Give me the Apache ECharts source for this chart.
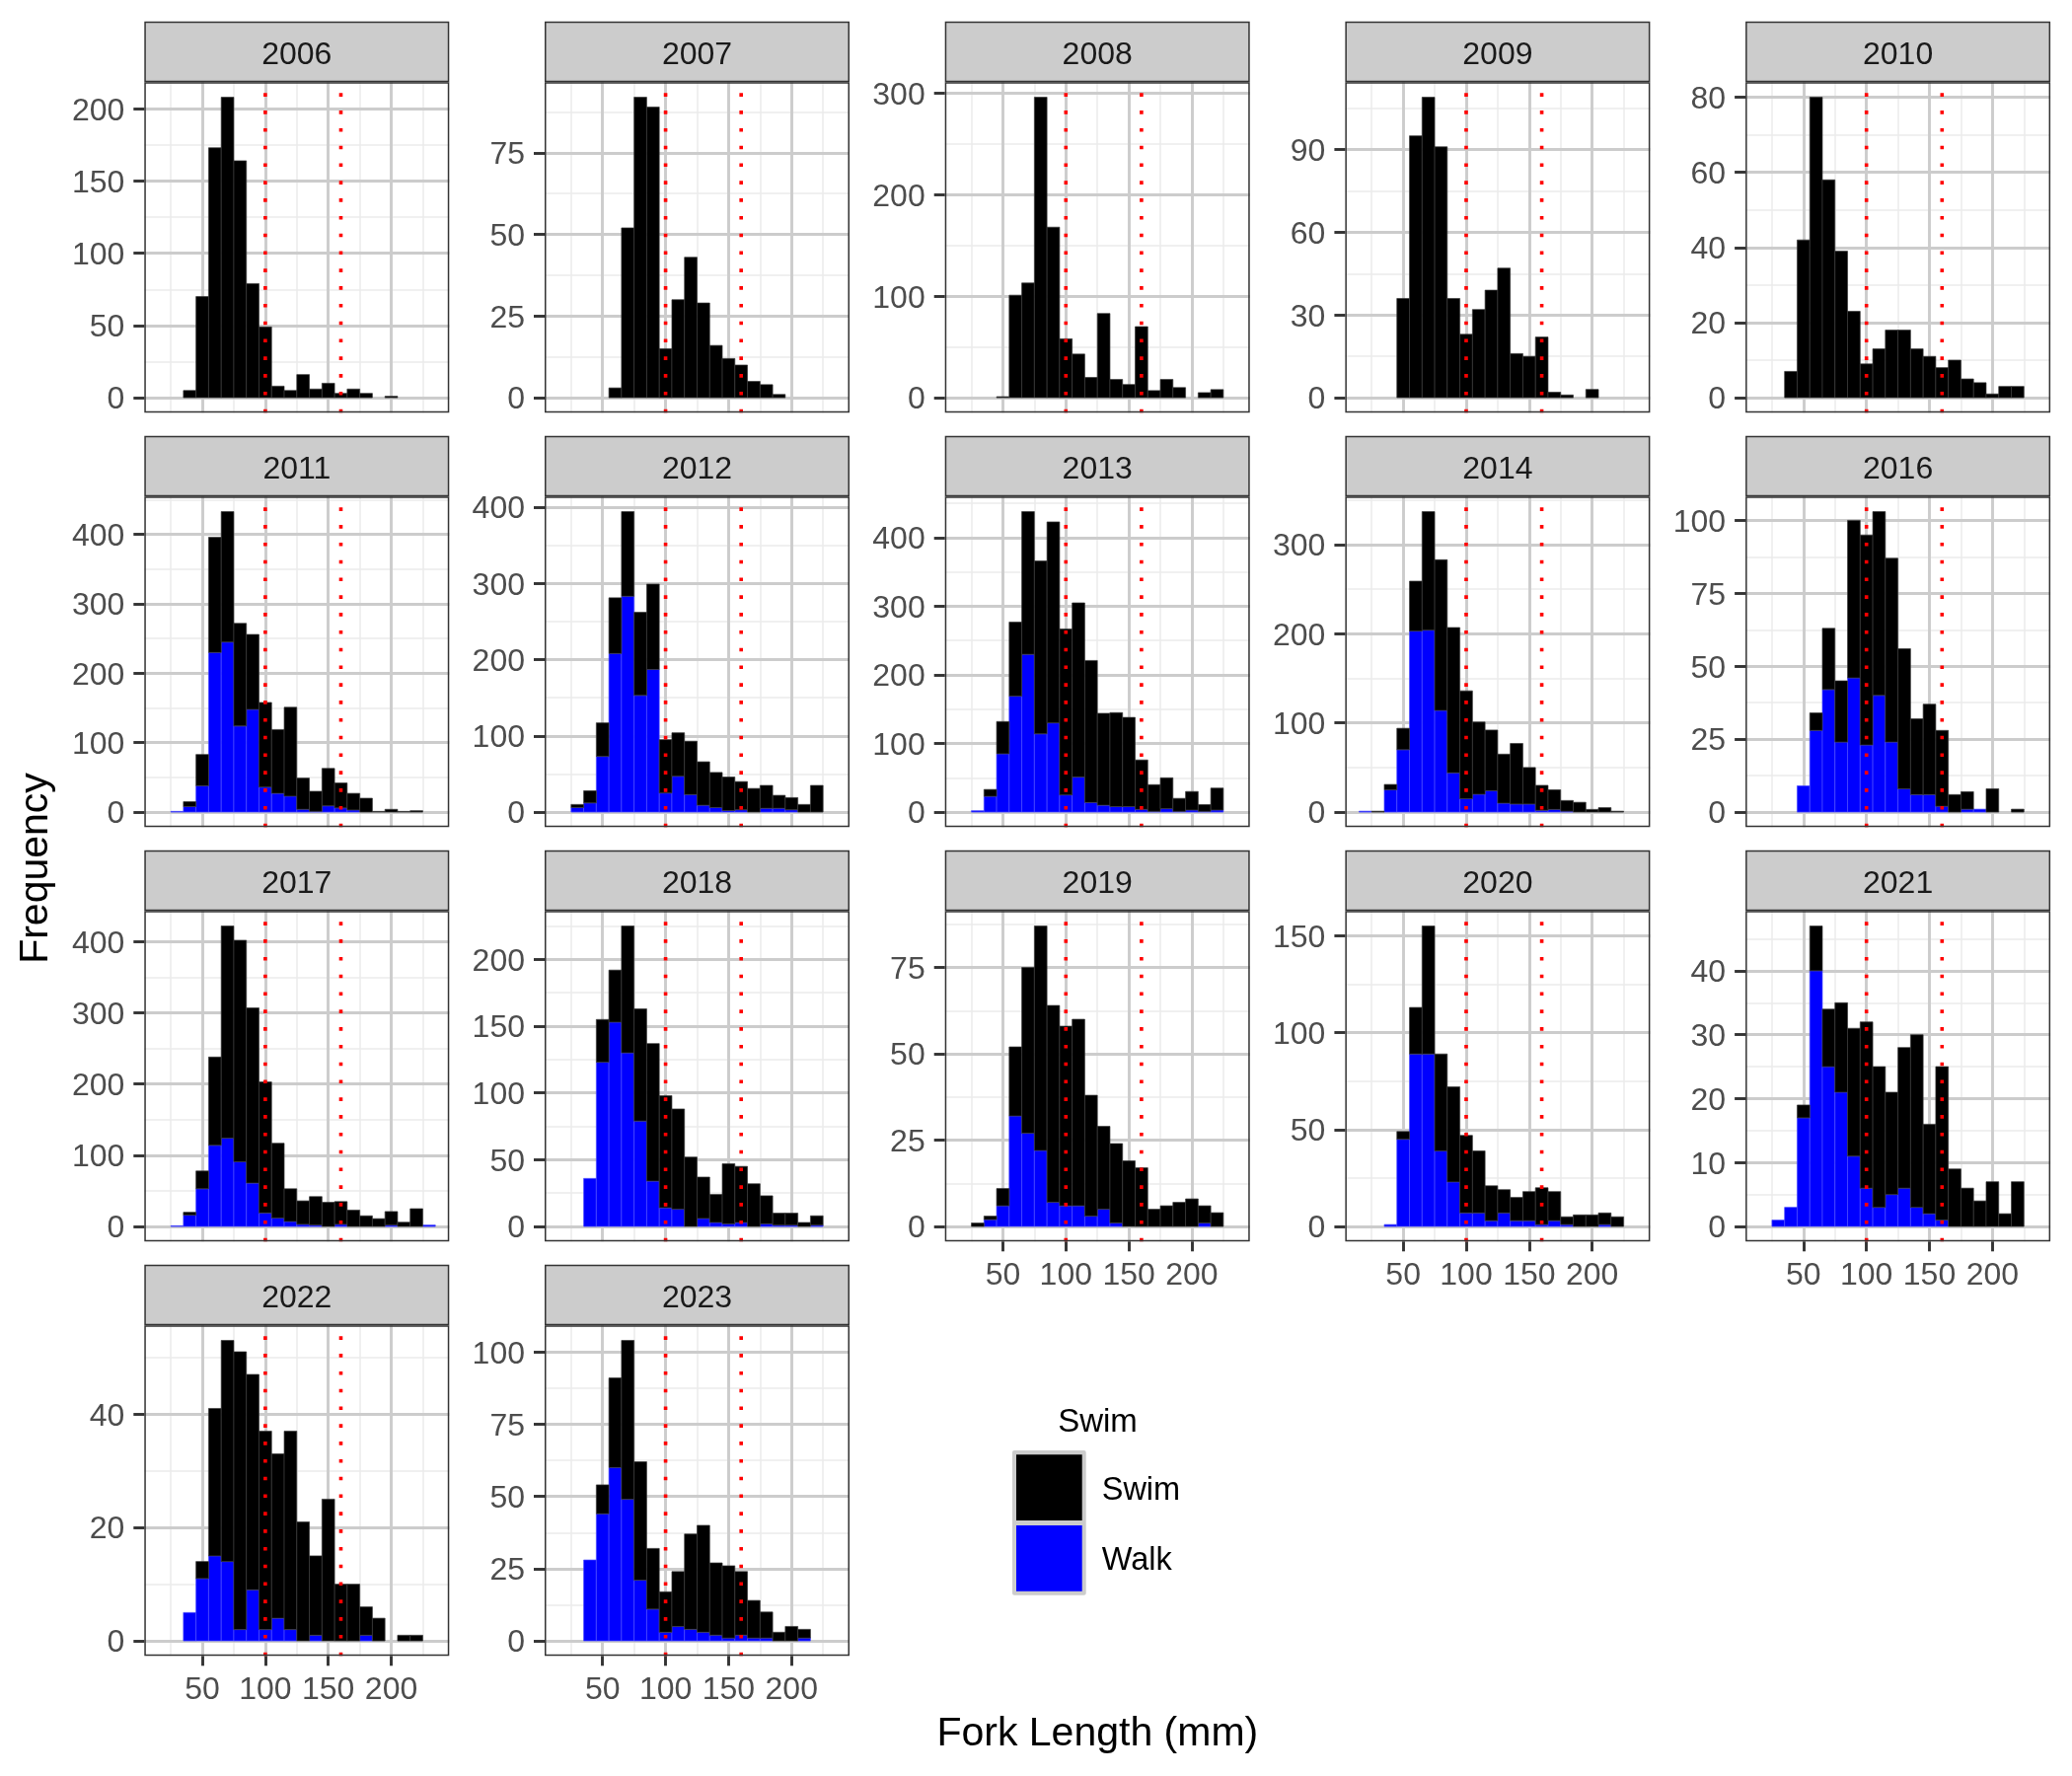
<!DOCTYPE html>
<html>
<head>
<meta charset="utf-8">
<script src="https://cdn.jsdelivr.net/npm/echarts@6/dist/echarts.min.js"></script>
<style>
html,body{margin:0;padding:0;background:#ffffff;}
#main{width:2100px;height:1800px;}
</style>
</head>
<body>
<div id="main"></div>
<script>
// ---------------- data ----------------
const binCenters = [20,30,40,50,60,70,80,90,100,110,120,130,140,150,160,170,180,190,200,210,220,230];
const binWidth = 10;
const years = [2006,2007,2008,2009,2010,2011,2012,2013,2014,2016,2017,2018,2019,2020,2021,2022,2023];

const walk_2006 = [0,0,0,0,0,0,0,0,0,0,0,0,0,0,0,0,0,0,0,0,0,0];
const swim_2006 = [0,0,5,70,173,208,164,79,49,8,5,16,6,10,3,6,3,0,1,0,0,0];
const walk_2007 = [0,0,0,0,0,0,0,0,0,0,0,0,0,0,0,0,0,0,0,0,0,0];
const swim_2007 = [0,0,0,0,3,52,92,89,15,30,43,29,16,12,10,5,4,1,0,0,0,0];
const walk_2008 = [0,0,0,0,0,0,0,0,0,0,0,0,0,0,0,0,0,0,0,0,0,0];
const swim_2008 = [0,0,0,1,101,113,296,168,58,43,20,83,18,13,70,7,18,10,0,5,8,0];
const walk_2009 = [0,0,0,0,0,0,0,0,0,0,0,0,0,0,0,0,0,0,0,0,0,0];
const swim_2009 = [0,0,0,36,95,109,91,36,23,32,39,47,16,15,22,2,1,0,3,0,0,0];
const walk_2010 = [0,0,0,0,0,0,0,0,0,0,0,0,0,0,0,0,0,0,0,0,0,0];
const swim_2010 = [0,0,7,42,80,58,39,23,9,13,18,18,13,11,8,10,5,4,1,3,3,0];
const walk_2011 = [0,1,8,38,230,245,124,148,36,27,23,4,1,9,6,3,0,0,0,0,0,0];
const swim_2011 = [0,0,7,45,166,188,148,108,122,92,128,45,29,54,36,24,20,1,4,1,2,0];
const walk_2012 = [0,6,12,73,208,283,153,187,25,47,23,9,6,2,3,0,5,5,3,0,0,0];
const swim_2012 = [0,4,16,44,73,111,109,112,70,57,70,57,46,44,37,31,30,17,16,10,35,0];
const walk_2013 = [0,2,23,85,169,230,114,130,25,51,14,10,8,8,4,1,5,1,3,1,3,0];
const swim_2013 = [0,0,10,47,108,208,252,293,242,254,207,134,137,130,72,39,45,19,27,10,32,0];
const walk_2014 = [1,0,25,70,203,204,114,44,15,20,24,10,9,9,2,3,1,0,0,0,0,0];
const swim_2014 = [0,1,6,24,56,133,169,163,121,81,68,55,68,41,28,22,12,11,3,5,1,0];
const walk_2016 = [0,0,0,9,28,42,24,46,23,40,24,8,6,6,2,0,1,1,0,0,0,0];
const swim_2016 = [0,0,0,0,6,21,21,54,72,63,63,48,26,31,26,6,6,0,8,0,1,0];
const walk_2017 = [0,1,16,53,114,124,91,61,19,12,7,3,2,0,3,0,0,0,2,0,0,2];
const swim_2017 = [0,0,4,25,124,298,311,246,184,105,46,33,40,34,32,23,15,11,19,6,25,0];
const walk_2018 = [0,0,36,123,153,130,79,34,14,13,0,6,3,2,3,0,2,1,1,0,1,0];
const swim_2018 = [0,0,0,32,39,95,84,103,84,75,52,31,21,45,42,32,21,9,9,3,7,0];
const walk_2019 = [0,0,2,6,32,27,22,7,6,6,3,5,1,0,0,0,0,0,0,1,0,0];
const swim_2019 = [0,1,1,5,20,48,65,57,52,54,35,24,23,19,17,5,6,7,8,5,4,0];
const walk_2020 = [0,0,1,45,89,89,39,23,7,7,3,7,3,3,1,3,1,0,0,1,0,0];
const swim_2020 = [0,0,0,4,24,66,50,49,40,32,18,12,12,15,19,15,4,6,6,6,5,0];
const walk_2021 = [0,1,3,17,40,25,21,11,6,3,5,6,3,2,1,0,0,0,0,0,0,0];
const swim_2021 = [0,0,0,2,7,9,14,20,26,22,16,22,27,14,24,9,6,4,7,2,7,0];
const walk_2022 = [0,0,5,11,15,14,2,9,2,4,2,0,1,0,0,0,1,0,0,0,0,0];
const swim_2022 = [0,0,0,3,26,39,49,38,35,29,35,21,14,25,10,10,5,4,0,1,1,0];
const walk_2023 = [0,0,28,44,60,49,21,11,3,5,4,3,2,1,2,1,1,0,0,1,0,0];
const swim_2023 = [0,0,0,10,31,55,41,21,14,19,33,37,25,25,22,13,9,3,5,3,0,0];

const yBreaks_2006 = [0,50,100,150,200];
const yBreaks_2007 = [0,25,50,75];
const yBreaks_2008 = [0,100,200,300];
const yBreaks_2009 = [0,30,60,90];
const yBreaks_2010 = [0,20,40,60,80];
const yBreaks_2011 = [0,100,200,300,400];
const yBreaks_2012 = [0,100,200,300,400];
const yBreaks_2013 = [0,100,200,300,400];
const yBreaks_2014 = [0,100,200,300];
const yBreaks_2016 = [0,25,50,75,100];
const yBreaks_2017 = [0,100,200,300,400];
const yBreaks_2018 = [0,50,100,150,200];
const yBreaks_2019 = [0,25,50,75];
const yBreaks_2020 = [0,50,100,150];
const yBreaks_2021 = [0,10,20,30,40];
const yBreaks_2022 = [0,20,40];
const yBreaks_2023 = [0,25,50,75,100];

const xBreaks = [50,100,150,200];
const xMinorBreaks = [25,75,125,175,225];
const refLines = [100,160];
const seriesNames = ['Swim','Walk'];

// lookup tables built from the arrays above
const walkByYear = {2006:walk_2006,2007:walk_2007,2008:walk_2008,2009:walk_2009,2010:walk_2010,2011:walk_2011,2012:walk_2012,2013:walk_2013,2014:walk_2014,2016:walk_2016,2017:walk_2017,2018:walk_2018,2019:walk_2019,2020:walk_2020,2021:walk_2021,2022:walk_2022,2023:walk_2023};
const swimByYear = {2006:swim_2006,2007:swim_2007,2008:swim_2008,2009:swim_2009,2010:swim_2010,2011:swim_2011,2012:swim_2012,2013:swim_2013,2014:swim_2014,2016:swim_2016,2017:swim_2017,2018:swim_2018,2019:swim_2019,2020:swim_2020,2021:swim_2021,2022:swim_2022,2023:swim_2023};
const yBreaksByYear = {2006:yBreaks_2006,2007:yBreaks_2007,2008:yBreaks_2008,2009:yBreaks_2009,2010:yBreaks_2010,2011:yBreaks_2011,2012:yBreaks_2012,2013:yBreaks_2013,2014:yBreaks_2014,2016:yBreaks_2016,2017:yBreaks_2017,2018:yBreaks_2018,2019:yBreaks_2019,2020:yBreaks_2020,2021:yBreaks_2021,2022:yBreaks_2022,2023:yBreaks_2023};

// ---------------- layout / style ----------------
const FONT = 'Liberation Sans, Arial, Helvetica, sans-serif';
const X_MIN = 4, X_MAX = 246;
const PANEL_LEFT0 = 146.3, COL_STEP = 405.7, PANEL_W = 309;
const STRIP_TOP0 = 21.7, ROW_STEP = 420, STRIP_H = 61.6, PANEL_H = 335;
const NCOL = 5;
const MAJOR = '#CCCCCC', MINOR = '#EBEBEB';
const STRIP_FILL = '#CCCCCC', BORDER = '#333333';
const SWIM_COLOR = '#000000', WALK_COLOR = '#0000FF';
const TICK_FONT = 32, STRIP_FONT = 32, TITLE_FONT = 41;
const LABEL_COLOR = '#4D4D4D';

const grids = [], xAxes = [], yAxes = [], series = [], graphics = [];

function barRenderer(fill, stroke) {
  return function (params, api) {
    const x = api.value(0), y0 = api.value(1), y1 = api.value(2);
    if (!(y1 > y0)) return null;
    const p0 = api.coord([x - binWidth / 2, y0]);
    const p1 = api.coord([x + binWidth / 2, y1]);
    return {
      type: 'rect',
      shape: { x: p0[0], y: p1[1], width: p1[0] - p0[0], height: p0[1] - p1[1] },
      style: { fill: fill, stroke: stroke, lineWidth: 0.7 }
    };
  };
}

function refRenderer(params, api) {
  const cs = params.coordSys;
  const px = api.coord([api.value(0), 0])[0];
  return {
    type: 'line',
    shape: { x1: px, y1: cs.y + cs.height, x2: px, y2: cs.y },
    style: { stroke: '#FF0000', lineWidth: 3.6, lineDash: [3.6, 14.2], lineCap: 'butt' }
  };
}

years.forEach(function (yr, i) {
  const col = i % NCOL, row = Math.floor(i / NCOL);
  const left = PANEL_LEFT0 + col * COL_STEP;
  const stripTop = STRIP_TOP0 + row * ROW_STEP;
  const top = stripTop + STRIP_H;
  grids.push({ left: left, top: top, width: PANEL_W, height: PANEL_H, containLabel: false, show: false });

  const walk = walkByYear[yr], swim = swimByYear[yr];
  const total = walk.map(function (w, k) { return w + swim[k]; });
  const mx = Math.max.apply(null, total);
  const yMin = -0.05 * mx, yMax = 1.05 * mx;
  const yb = yBreaksByYear[yr];
  const step = yb[1] - yb[0];
  const yMinor = [];
  if (yb[0] - step / 2 >= yMin) yMinor.push(yb[0] - step / 2);
  yb.forEach(function (b) { if (b + step / 2 <= yMax) yMinor.push(b + step / 2); });
  const showX = i + NCOL >= years.length;

  const xi = xAxes.length, yi = yAxes.length;
  xAxes.push({
    type: 'value', gridIndex: i, min: X_MIN, max: X_MAX, position: 'bottom', z: 1,
    axisLine: { show: false, onZero: false },
    axisTick: { show: showX, length: 10, lineStyle: { color: BORDER, width: 2.9 }, customValues: xBreaks },
    axisLabel: { show: showX, customValues: xBreaks, fontSize: TICK_FONT, color: LABEL_COLOR, margin: 19, fontFamily: FONT },
    splitLine: { show: true, lineStyle: { color: MAJOR, width: 2.9 } }
  });
  xAxes.push({
    type: 'value', gridIndex: i, min: X_MIN, max: X_MAX, position: 'top', z: 0,
    axisLine: { show: false, onZero: false },
    axisTick: { show: false, customValues: xMinorBreaks },
    axisLabel: { show: false, customValues: xMinorBreaks },
    splitLine: { show: true, lineStyle: { color: MINOR, width: 1.5 } }
  });
  yAxes.push({
    type: 'value', gridIndex: i, min: yMin, max: yMax, position: 'left', z: 1,
    axisLine: { show: false, onZero: false },
    axisTick: { show: true, length: 11, lineStyle: { color: BORDER, width: 2.9 }, customValues: yb },
    axisLabel: {
      show: true, customValues: yb, fontSize: TICK_FONT, color: LABEL_COLOR, margin: 20, fontFamily: FONT,
      formatter: function (v) { return '{s|}\n{v|' + v + '}'; },
      rich: {
        s: { lineHeight: 5, fontSize: 1 },
        v: { lineHeight: 32, fontSize: TICK_FONT, color: LABEL_COLOR, fontFamily: FONT }
      }
    },
    splitLine: { show: true, lineStyle: { color: MAJOR, width: 2.9 } }
  });
  yAxes.push({
    type: 'value', gridIndex: i, min: yMin, max: yMax, position: 'right', z: 0,
    axisLine: { show: false, onZero: false },
    axisTick: { show: false, customValues: yMinor },
    axisLabel: { show: false, customValues: yMinor },
    splitLine: { show: true, lineStyle: { color: MINOR, width: 1.5 } }
  });

  series.push({
    type: 'custom', name: 'Walk', xAxisIndex: xi, yAxisIndex: yi, z: 2,
    itemStyle: { color: WALK_COLOR },
    encode: { x: 0, y: [1, 2] },
    renderItem: barRenderer(WALK_COLOR, '#4a4aff'),
    data: binCenters.map(function (c, k) { return [c, 0, walk[k]]; }),
    silent: true, animation: false
  });
  series.push({
    type: 'custom', name: 'Swim', xAxisIndex: xi, yAxisIndex: yi, z: 2,
    itemStyle: { color: SWIM_COLOR },
    encode: { x: 0, y: [1, 2] },
    renderItem: barRenderer(SWIM_COLOR, '#3a3a3a'),
    data: binCenters.map(function (c, k) { return [c, walk[k], total[k]]; }),
    silent: true, animation: false
  });
  series.push({
    type: 'custom', name: 'cutoff', xAxisIndex: xi, yAxisIndex: yi, z: 3,
    encode: { x: 0, y: 1 },
    renderItem: refRenderer,
    data: refLines.map(function (v) { return [v, 0]; }),
    silent: true, animation: false
  });

  // strip
  graphics.push({
    type: 'rect', z: 10, silent: true,
    shape: { x: left + 0.75, y: stripTop + 0.75, width: PANEL_W - 1.5, height: STRIP_H - 1.5 },
    style: { fill: STRIP_FILL, stroke: BORDER, lineWidth: 1.5 }
  });
  graphics.push({
    type: 'text', z: 11, silent: true,
    x: left + PANEL_W / 2, y: stripTop + STRIP_H / 2 + 3.7,
    style: { text: String(yr), fontSize: STRIP_FONT, fontFamily: FONT, fill: '#1A1A1A', align: 'center', verticalAlign: 'middle', textAlign: 'center', textVerticalAlign: 'middle' }
  });
  // panel border
  graphics.push({
    type: 'rect', z: 10, silent: true,
    shape: { x: left + 0.75, y: top + 0.75, width: PANEL_W - 1.5, height: PANEL_H - 1.5 },
    style: { fill: 'none', stroke: BORDER, lineWidth: 1.5 }
  });
});

// axis titles
graphics.push({
  type: 'text', z: 11, silent: true, x: 1112.3, y: 1757.5,
  style: { text: 'Fork Length (mm)', fontSize: TITLE_FONT, fontFamily: FONT, fill: '#000000', align: 'center', verticalAlign: 'middle', textAlign: 'center', textVerticalAlign: 'middle' }
});
graphics.push({
  type: 'text', z: 11, silent: true, x: 37, y: 880, rotation: Math.PI / 2,
  style: { text: 'Frequency', fontSize: TITLE_FONT, fontFamily: FONT, fill: '#000000', align: 'center', verticalAlign: 'middle', textAlign: 'center', textVerticalAlign: 'middle' }
});
// legend title + key frame
graphics.push({
  type: 'text', z: 11, silent: true, x: 1112.5, y: 1442,
  style: { text: 'Swim', fontSize: 33, fontFamily: FONT, fill: '#000000', align: 'center', verticalAlign: 'middle', textAlign: 'center', textVerticalAlign: 'middle' }
});
graphics.push({
  type: 'rect', z: 1, silent: true,
  shape: { x: 1026, y: 1470, width: 74.7, height: 146.7, r: 2 },
  style: { fill: '#CCCCCC' }
});

const option = {
  backgroundColor: '#ffffff',
  animation: false,
  textStyle: { fontFamily: FONT },
  grid: grids,
  xAxis: xAxes,
  yAxis: yAxes,
  series: series,
  legend: {
    data: seriesNames, orient: 'vertical', left: 1030, top: 1474.3, padding: 0,
    itemWidth: 66.7, itemHeight: 66.7, itemGap: 5, icon: 'rect', selectedMode: false,
    itemStyle: { borderWidth: 0 },
    formatter: '{s|}\n{t|{name}}',
    textStyle: {
      fontSize: 32.5, color: '#000000', fontFamily: FONT,
      rich: {
        s: { lineHeight: 6, fontSize: 1 },
        t: { lineHeight: 33, fontSize: 32.5, color: '#000000', fontFamily: FONT, padding: [0, 0, 0, 15] }
      }
    }
  },
  graphic: { elements: graphics }
};

const chart = echarts.init(document.getElementById('main'), null, { renderer: 'canvas', width: 2100, height: 1800 });
chart.setOption(option);
</script>
</body>
</html>
